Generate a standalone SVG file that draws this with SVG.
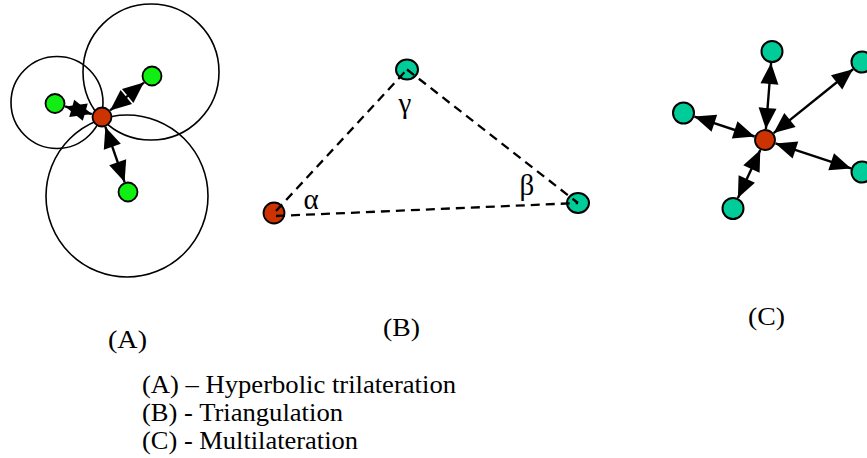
<svg xmlns="http://www.w3.org/2000/svg" width="867" height="458" viewBox="0 0 867 458">
<style>
  .ring { fill: none; stroke: #000; stroke-width: 1.6; }
  .red { fill: #CC3300; stroke: #000; stroke-width: 1.8; }
  .lime { fill: #11EE11; stroke: #000; stroke-width: 1.8; }
  .teal { fill: #00CC99; stroke: #000; stroke-width: 2; }
  .arrow { stroke: #000; stroke-width: 2.4; fill: none; }
  .dash { stroke: #000; stroke-width: 2.3; fill: none; stroke-dasharray: 9 6; }
  .lbl { font-family: "Liberation Serif", "Times New Roman", serif; font-size: 26px; fill: #000; }
  .greek { font-family: "Liberation Serif", "Times New Roman", serif; font-size: 29px; fill: #000; text-anchor: middle; }
</style>
<defs>
  <marker id="head" viewBox="0 0 21 18" refX="21" refY="9" markerUnits="userSpaceOnUse" markerWidth="21" markerHeight="18" orient="auto-start-reverse" overflow="visible">
    <path d="M0,0 L21,9 L0,18 z" fill="#000"/>
  </marker>
</defs>
<rect width="867" height="458" fill="#fff"/>

<!-- Panel A -->
<g id="panelA-circles">
  <circle class="ring" cx="57" cy="102.5" r="46"/>
  <circle class="ring" cx="151" cy="72" r="68"/>
  <circle class="ring" cx="127" cy="196" r="81"/>
</g>
<g id="A-red"><circle class="red" cx="102" cy="117" r="9.5"/></g>
<g id="A-left"><circle class="lime" cx="55" cy="103.5" r="9.5"/></g>
<g id="A-topright"><circle class="lime" cx="152" cy="76" r="9.5"/></g>
<g id="A-bottom"><circle class="lime" cx="128" cy="192" r="9.5"/></g>

<!-- Panel B -->
<g id="B-top"><ellipse class="teal" cx="407" cy="69.5" rx="11" ry="10"/></g>
<g id="B-red"><circle class="red" cx="274" cy="213" r="10.5"/></g>
<g id="B-right"><ellipse class="teal" cx="578" cy="203" rx="11" ry="10"/></g>

<!-- Panel C -->
<g id="C-red"><circle class="red" cx="765" cy="140" r="10"/></g>
<g id="C-top"><circle class="teal" cx="772" cy="51.5" r="10.5"/></g>
<g id="C-topright"><circle class="teal" cx="862" cy="62" r="10.5"/></g>
<g id="C-left"><circle class="teal" cx="683.5" cy="113" r="10.5"/></g>
<g id="C-right"><circle class="teal" cx="862" cy="172" r="10.5"/></g>
<g id="C-bottom"><circle class="teal" cx="733" cy="208.5" r="10.5"/></g>

<g id="connectors">
  <line class="arrow" marker-start="url(#head)" marker-end="url(#head)" x1="91.9" y1="114.1" x2="65.1" y2="106.4"/>
  <line class="arrow" marker-start="url(#head)" marker-end="url(#head)" x1="110.1" y1="110.4" x2="143.9" y2="82.6"/>
  <line class="arrow" marker-start="url(#head)" marker-end="url(#head)" x1="105.4" y1="126.9" x2="124.6" y2="182.1"/>

  <line class="dash" x1="276" y1="211" x2="407" y2="69.5"/>
  <line class="dash" x1="407" y1="69.5" x2="578" y2="203"/>
  <line class="dash" x1="276" y1="216" x2="578" y2="203"/>

  <line class="arrow" marker-start="url(#head)" marker-end="url(#head)" x1="765.9" y1="129" x2="771.1" y2="63"/>
  <line class="arrow" marker-start="url(#head)" marker-end="url(#head)" x1="773.6" y1="133.1" x2="853" y2="69.2"/>
  <line class="arrow" marker-start="url(#head)" marker-end="url(#head)" x1="754.6" y1="136.5" x2="694.4" y2="116.6"/>
  <line class="arrow" marker-start="url(#head)" marker-end="url(#head)" x1="775.5" y1="143.4" x2="851.1" y2="168.4"/>
  <line class="arrow" marker-start="url(#head)" marker-end="url(#head)" x1="760.3" y1="150" x2="737.9" y2="198.1"/>
</g>

<g id="angles">
  <text class="greek" x="405" y="113">γ</text>
  <text class="greek" x="311" y="209">α</text>
  <text class="greek" x="527" y="195">β</text>
</g>

<g id="labels">
  <text class="lbl" x="108" y="348" textLength="39" lengthAdjust="spacingAndGlyphs">(A)</text>
  <text class="lbl" x="383" y="336" textLength="37" lengthAdjust="spacingAndGlyphs">(B)</text>
  <text class="lbl" x="748" y="325" textLength="37" lengthAdjust="spacingAndGlyphs">(C)</text>
  <text class="lbl" x="142" y="393" textLength="314" lengthAdjust="spacingAndGlyphs">(A) – Hyperbolic trilateration</text>
  <text class="lbl" x="142" y="421" textLength="201" lengthAdjust="spacingAndGlyphs">(B) - Triangulation</text>
  <text class="lbl" x="142" y="449" textLength="216" lengthAdjust="spacingAndGlyphs">(C) - Multilateration</text>
</g>
</svg>
